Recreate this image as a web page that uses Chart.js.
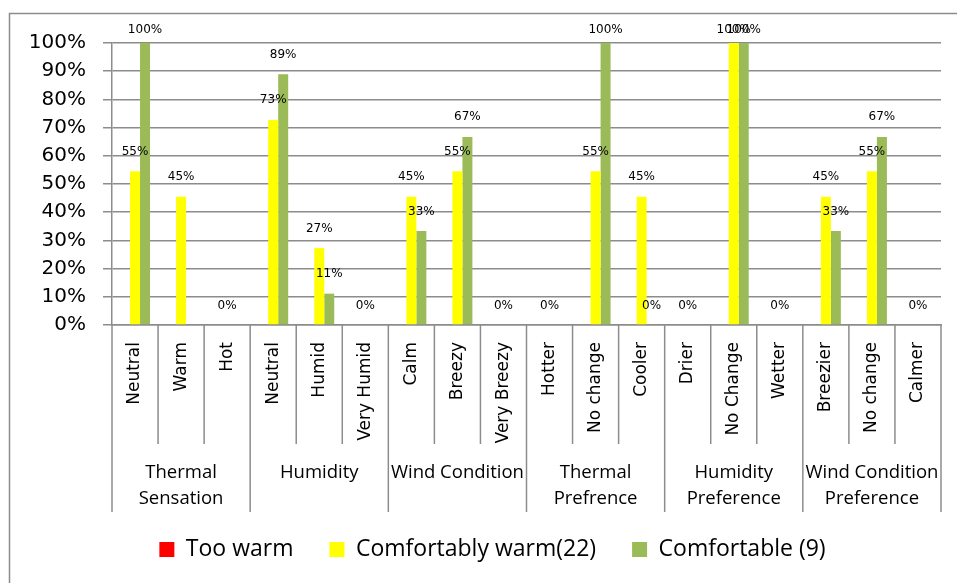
<!DOCTYPE html>
<html>
<head>
<meta charset="utf-8">
<script src="https://cdn.jsdelivr.net/npm/chart.js@4/dist/chart.umd.min.js"></script>
<style>
  html, body { margin: 0; padding: 0; background: #fff; overflow: hidden; }
  #wrap { width: 989px; height: 583px; position: relative; }
</style>
</head>
<body>
<div id="wrap"><canvas id="c"></canvas></div>
<script>
// Survey answers, share of respondents per answer (%)
const categories = ['Neutral', 'Warm', 'Hot', 'Neutral', 'Humid', 'Very Humid', 'Calm', 'Breezy', 'Very Breezy',
  'Hotter', 'No change', 'Cooler', 'Drier', 'No Change', 'Wetter', 'Breezier', 'No change', 'Calmer'];
const groups = [['Thermal', 'Sensation'], ['Humidity'], ['Wind Condition'], ['Thermal', 'Prefrence'],
  ['Humidity', 'Preference'], ['Wind Condition', 'Preference']];
const groupSize = 3;

const seriesNames = ['Too warm', 'Comfortably warm(22)', 'Comfortable (9)'];
const tooWarm = [0, 0, 0, 0, 0, 0, 0, 0, 0, 0, 0, 0, 0, 0, 0, 0, 0, 0];
const comfortablyWarm = [54.55, 45.45, 0, 72.73, 27.27, 0, 45.45, 54.55, 0, 0, 54.55, 45.45, 0, 100, 0, 45.45, 54.55, 0];
const comfortable = [100, null, null, 88.89, 11.11, null, 33.33, 66.67, null, null, 100, 0, null, 100, null, 33.33, 66.67, null];
const seriesColors = ['#FF0000', '#FFFF00', '#9BBB59'];

const yMin = 0, yMax = 100, yStep = 10;

const lineGray = '#8c8c8c';

// Outer frame of the chart
const frame = {
  id: 'frame',
  beforeDraw(chart) {
    const c = chart.ctx;
    c.save();
    c.strokeStyle = lineGray;
    c.lineWidth = 1.5;
    c.strokeRect(9.5, 13.5, chart.width, chart.height);
    c.restore();
  }
};

// Legend row sits a little right of the page centre
const legendShift = {
  id: 'legendShift',
  afterLayout(chart) {
    if (chart.legend) {
      chart.legend.left += 12;
      chart.legend.right += 12;
    }
  }
};

// Percent labels above the yellow and green bars
const valueLabels = {
  id: 'valueLabels',
  afterDatasetsDraw(chart) {
    const c = chart.ctx;
    c.save();
    c.font = '12px "DejaVu Sans"';
    c.fillStyle = '#000';
    c.textAlign = 'center';
    c.textBaseline = 'alphabetic';
    [1, 2].forEach(di => {
      const meta = chart.getDatasetMeta(di);
      const data = chart.data.datasets[di].data;
      meta.data.forEach((bar, i) => {
        const v = data[i];
        if (v == null) return;
        c.fillText(Math.round(v) + '%', bar.x, Math.max(bar.y - 16.5, 33));
      });
    });
    c.restore();
  }
};

// Second level of the category axis: separators and group names
const categoryGroups = {
  id: 'categoryGroups',
  afterDraw(chart) {
    const x = chart.scales.x;
    const c = chart.ctx;
    const n = categories.length;
    const w = x.getPixelForValue(1) - x.getPixelForValue(0);
    const top = x.top;
    c.save();
    c.strokeStyle = lineGray;
    c.lineWidth = 1.5;
    for (let i = 0; i <= n; i++) {
      const px = x.getPixelForValue(0) + (i - 0.5) * w;
      const isGroupEdge = i % groupSize === 0;
      c.beginPath();
      c.moveTo(px, top);
      c.lineTo(px, top + (isGroupEdge ? 187 : 119));
      c.stroke();
    }
    c.font = '18.5px "Open Sans"';
    c.fillStyle = '#000';
    c.textAlign = 'center';
    c.textBaseline = 'alphabetic';
    groups.forEach((lines, g) => {
      const cx = x.getPixelForValue(g * groupSize + (groupSize - 1) / 2);
      lines.forEach((t, k) => c.fillText(t, cx, top + 153 + k * 26));
    });
    c.restore();
  }
};

new Chart(document.getElementById('c'), {
  type: 'bar',
  data: {
    labels: categories,
    datasets: [
      { label: seriesNames[0], data: tooWarm, backgroundColor: seriesColors[0] },
      { label: seriesNames[1], data: comfortablyWarm, backgroundColor: seriesColors[1] },
      { label: seriesNames[2], data: comfortable, backgroundColor: seriesColors[2] }
    ]
  },
  options: {
    responsive: true,
    maintainAspectRatio: false,
    animation: false,
    devicePixelRatio: 1,
    datasets: { bar: { categoryPercentage: 0.651, barPercentage: 1.0, borderWidth: 0 } },
    layout: { padding: { left: 20, right: 48, top: 43, bottom: 12 } },
    plugins: {
      tooltip: { enabled: false },
      legend: {
        position: 'bottom',
        labels: {
          boxWidth: 15,
          boxHeight: 15,
          padding: 36,
          color: '#000',
          font: { family: 'Open Sans', size: 23 }
        }
      }
    },
    scales: {
      x: {
        grid: { display: false },
        border: { display: true, color: lineGray, width: 1.5 },
        ticks: {
          autoSkip: false,
          minRotation: 90,
          maxRotation: 90,
          padding: 9,
          color: '#000',
          font: { family: 'DejaVu Sans', size: 17 }
        },
        afterFit(scale) { scale.height = 177; }
      },
      y: {
        min: yMin,
        max: yMax,
        grid: { color: lineGray, lineWidth: 1.5, tickLength: 9, tickColor: lineGray, drawTicks: true },
        border: { display: true, color: lineGray, width: 1.5 },
        ticks: {
          stepSize: yStep,
          padding: 17,
          color: '#000',
          font: { family: 'DejaVu Sans', size: 20 },
          callback: v => v + '%'
        },
        afterFit(scale) { scale.width = 92; }
      }
    }
  },
  plugins: [frame, legendShift, valueLabels, categoryGroups]
});
</script>
</body>
</html>
